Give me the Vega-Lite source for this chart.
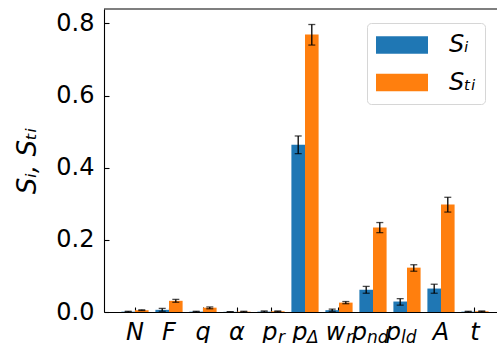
{
  "$schema": "https://vega.github.io/schema/vega-lite/v6.json",
  "width": 393,
  "height": 303,
  "autosize": {"type": "none"},
  "padding": {"left": 104, "top": 9, "right": 0, "bottom": 31},
  "background": "white",
  "config": {
    "font": "DejaVu Sans",
    "view": {"stroke": null},
    "axis": {"grid": false, "domainColor": "black", "tickColor": "black", "domainWidth": 1.1, "tickWidth": 1.1, "labelColor": "black", "titleColor": "black", "labelFont": "DejaVu Sans", "titleFont": "DejaVu Sans"}
  },
  "datasets": {
    "bars": [
      {"cat": "N", "series": "S_i", "value": 0.001, "lo": 0.0, "hi": 0.002},
      {"cat": "N", "series": "S_Ti", "value": 0.005, "lo": 0.004, "hi": 0.006},
      {"cat": "F", "series": "S_i", "value": 0.006, "lo": 0.002, "hi": 0.010},
      {"cat": "F", "series": "S_Ti", "value": 0.031, "lo": 0.027, "hi": 0.035},
      {"cat": "q", "series": "S_i", "value": 0.001, "lo": 0.0, "hi": 0.002},
      {"cat": "q", "series": "S_Ti", "value": 0.012, "lo": 0.009, "hi": 0.014},
      {"cat": "α", "series": "S_i", "value": 0.0005, "lo": 0.0, "hi": 0.001},
      {"cat": "α", "series": "S_Ti", "value": 0.001, "lo": 0.0, "hi": 0.002},
      {"cat": "p_r", "series": "S_i", "value": 0.001, "lo": 0.0, "hi": 0.003},
      {"cat": "p_r", "series": "S_Ti", "value": 0.002, "lo": 0.001, "hi": 0.003},
      {"cat": "p_Δ", "series": "S_i", "value": 0.464, "lo": 0.439, "hi": 0.488},
      {"cat": "p_Δ", "series": "S_Ti", "value": 0.769, "lo": 0.740, "hi": 0.797},
      {"cat": "w_r", "series": "S_i", "value": 0.005, "lo": 0.002, "hi": 0.008},
      {"cat": "w_r", "series": "S_Ti", "value": 0.026, "lo": 0.023, "hi": 0.029},
      {"cat": "p_nd", "series": "S_i", "value": 0.062, "lo": 0.052, "hi": 0.071},
      {"cat": "p_nd", "series": "S_Ti", "value": 0.234, "lo": 0.220, "hi": 0.248},
      {"cat": "p_ld", "series": "S_i", "value": 0.029, "lo": 0.019, "hi": 0.037},
      {"cat": "p_ld", "series": "S_Ti", "value": 0.123, "lo": 0.113, "hi": 0.131},
      {"cat": "A", "series": "S_i", "value": 0.065, "lo": 0.052, "hi": 0.077},
      {"cat": "A", "series": "S_Ti", "value": 0.298, "lo": 0.277, "hi": 0.318},
      {"cat": "t", "series": "S_i", "value": 0.001, "lo": 0.0, "hi": 0.002},
      {"cat": "t", "series": "S_Ti", "value": 0.002, "lo": 0.001, "hi": 0.003}
    ],
    "labels": [
      {"cat": "N", "main": "N", "sub": ""},
      {"cat": "F", "main": "F", "sub": ""},
      {"cat": "q", "main": "q", "sub": ""},
      {"cat": "α", "main": "α", "sub": ""},
      {"cat": "p_r", "main": "p", "sub": "r"},
      {"cat": "p_Δ", "main": "p", "sub": "Δ"},
      {"cat": "w_r", "main": "w", "sub": "r"},
      {"cat": "p_nd", "main": "p", "sub": "nd"},
      {"cat": "p_ld", "main": "p", "sub": "ld"},
      {"cat": "A", "main": "A", "sub": ""},
      {"cat": "t", "main": "t", "sub": ""}
    ]
  },
  "layer": [
    {
      "data": {"name": "bars"},
      "mark": {"type": "bar"},
      "encoding": {
        "x": {"field": "cat", "type": "nominal", "scale": {"domain": ["N", "F", "q", "α", "p_r", "p_Δ", "w_r", "p_nd", "p_ld", "A", "t"], "range": [0, 402], "paddingInner": 0.2, "paddingOuter": 0.512}, "axis": {"title": null, "labels": false, "tickSize": -5, "domain": true}},
        "xOffset": {"field": "series", "type": "nominal", "scale": {"domain": ["S_i", "S_Ti"], "padding": 0}},
        "y": {"field": "value", "type": "quantitative", "scale": {"domain": [0, 0.84], "nice": false, "zero": true}, "axis": {"title": "Sᵢ, Sₜᵢ", "titleFontSize": 26, "titleFontStyle": "italic", "titleFontWeight": "normal", "titlePadding": 15, "values": [0, 0.2, 0.4, 0.6, 0.8], "format": ".1f", "labelFontSize": 24, "labelPadding": 15, "tickSize": -5}},
        "color": {"field": "series", "type": "nominal", "scale": {"domain": ["S_i", "S_Ti"], "range": ["#1f77b4", "#ff7f0e"]}, "legend": {"title": null, "orient": "none", "legendX": 263, "legendY": 14, "symbolType": "M-1,-0.68L3,-0.68L3,0.68L-1,0.68Z", "symbolSize": 676, "symbolStrokeWidth": 0, "symbolOpacity": 1, "labelFont": "DejaVu Sans", "labelFontStyle": "italic", "labelFontSize": 24, "labelColor": "black", "labelOffset": 47, "rowPadding": 12.5, "padding": 9, "cornerRadius": 4, "strokeColor": "#d6d6d6", "fillColor": "white", "labelExpr": "datum.value == 'S_i' ? 'Sᵢ' : 'Sₜᵢ'"}}
      }
    },
    {
      "data": {"name": "bars"},
      "mark": {"type": "rule", "color": "black", "strokeWidth": 1.3},
      "encoding": {
        "x": {"field": "cat", "type": "nominal", "axis": {"title": null, "labels": false, "tickSize": -5}},
        "xOffset": {"field": "series", "type": "nominal"},
        "y": {"field": "lo", "type": "quantitative"},
        "y2": {"field": "hi"}
      }
    },
    {
      "data": {"name": "bars"},
      "mark": {"type": "tick", "color": "black", "thickness": 1.3, "size": 7},
      "encoding": {
        "x": {"field": "cat", "type": "nominal", "axis": {"title": null, "labels": false, "tickSize": -5}},
        "xOffset": {"field": "series", "type": "nominal"},
        "y": {"field": "lo", "type": "quantitative"}
      }
    },
    {
      "data": {"name": "bars"},
      "mark": {"type": "tick", "color": "black", "thickness": 1.3, "size": 7},
      "encoding": {
        "x": {"field": "cat", "type": "nominal", "axis": {"title": null, "labels": false, "tickSize": -5}},
        "xOffset": {"field": "series", "type": "nominal"},
        "y": {"field": "hi", "type": "quantitative"}
      }
    },
    {
      "data": {"values": [{}]},
      "mark": {"type": "rule", "color": "black", "strokeWidth": 1.1},
      "encoding": {"y": {"datum": 0.84}}
    },
    {
      "data": {"name": "labels"},
      "transform": [{"filter": "datum.sub == ''"}],
      "mark": {"type": "text", "align": "center", "baseline": "alphabetic", "dy": 28, "fontSize": 24, "fontStyle": "italic", "font": "DejaVu Sans", "color": "black"},
      "encoding": {
        "x": {"field": "cat", "type": "nominal", "axis": {"title": null, "labels": false, "tickSize": -5}},
        "y": {"datum": 0},
        "text": {"field": "main"}
      }
    },
    {
      "data": {"name": "labels"},
      "transform": [{"filter": {"field": "cat", "oneOf": ["p_r", "w_r"]}}],
      "mark": {"type": "text", "align": "right", "baseline": "alphabetic", "dx": 6.5, "dy": 28, "fontSize": 24, "fontStyle": "italic", "font": "DejaVu Sans", "color": "black"},
      "encoding": {
        "x": {"field": "cat", "type": "nominal", "axis": {"title": null, "labels": false, "tickSize": -5}},
        "y": {"datum": 0},
        "text": {"field": "main"}
      }
    },
    {
      "data": {"name": "labels"},
      "transform": [{"filter": {"field": "cat", "oneOf": ["p_r", "w_r"]}}],
      "mark": {"type": "text", "align": "left", "baseline": "alphabetic", "dx": 7, "dy": 30.5, "fontSize": 17, "fontStyle": "italic", "font": "DejaVu Sans", "color": "black"},
      "encoding": {
        "x": {"field": "cat", "type": "nominal", "axis": {"title": null, "labels": false, "tickSize": -5}},
        "y": {"datum": 0},
        "text": {"field": "sub"}
      }
    },
    {
      "data": {"name": "labels"},
      "transform": [{"filter": {"field": "cat", "oneOf": ["p_Δ"]}}],
      "mark": {"type": "text", "align": "right", "baseline": "alphabetic", "dx": 2.5, "dy": 28, "fontSize": 24, "fontStyle": "italic", "font": "DejaVu Sans", "color": "black"},
      "encoding": {
        "x": {"field": "cat", "type": "nominal", "axis": {"title": null, "labels": false, "tickSize": -5}},
        "y": {"datum": 0},
        "text": {"field": "main"}
      }
    },
    {
      "data": {"name": "labels"},
      "transform": [{"filter": {"field": "cat", "oneOf": ["p_Δ"]}}],
      "mark": {"type": "text", "align": "left", "baseline": "alphabetic", "dx": 2, "dy": 30.5, "fontSize": 17, "fontStyle": "italic", "font": "DejaVu Sans", "color": "black"},
      "encoding": {
        "x": {"field": "cat", "type": "nominal", "axis": {"title": null, "labels": false, "tickSize": -5}},
        "y": {"datum": 0},
        "text": {"field": "sub"}
      }
    },
    {
      "data": {"name": "labels"},
      "transform": [{"filter": {"field": "cat", "oneOf": ["p_nd", "p_ld"]}}],
      "mark": {"type": "text", "align": "right", "baseline": "alphabetic", "dx": -6, "dy": 28, "fontSize": 24, "fontStyle": "italic", "font": "DejaVu Sans", "color": "black"},
      "encoding": {
        "x": {"field": "cat", "type": "nominal", "axis": {"title": null, "labels": false, "tickSize": -5}},
        "y": {"datum": 0},
        "text": {"field": "main"}
      }
    },
    {
      "data": {"name": "labels"},
      "transform": [{"filter": {"field": "cat", "oneOf": ["p_nd", "p_ld"]}}],
      "mark": {"type": "text", "align": "left", "baseline": "alphabetic", "dx": -6, "dy": 30.5, "fontSize": 17, "fontStyle": "italic", "font": "DejaVu Sans", "color": "black"},
      "encoding": {
        "x": {"field": "cat", "type": "nominal", "axis": {"title": null, "labels": false, "tickSize": -5}},
        "y": {"datum": 0},
        "text": {"field": "sub"}
      }
    }
  ]
}
